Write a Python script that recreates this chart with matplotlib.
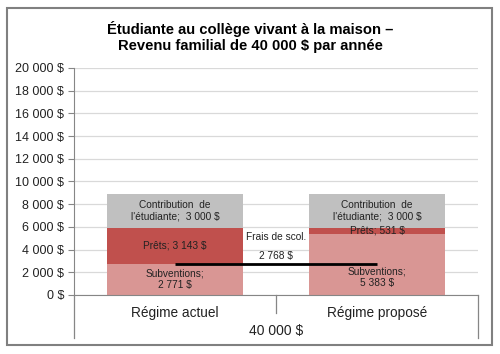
import matplotlib
matplotlib.use("Agg")
import matplotlib.pyplot as plt
from matplotlib.patches import Rectangle
from matplotlib.lines import Line2D

plt.rcParams['font.family'] = ['Liberation Sans', 'DejaVu Sans']

categories = ["Régime actuel", "Régime proposé"]
group_label = "40 000 $"
subventions = [2771, 5383]
prets = [3143, 531]
contribution = [3000, 3000]
frais_scol = 2768
title = "Étudiante au collège vivant à la maison –\nRevenu familial de 40 000 $ par année"
yticks = list(range(0, 20001, 2000))

def fmt(v):
    return f"{v:,}".replace(",", " ") + " $"

fig = plt.figure(figsize=(5.0, 3.54), dpi=100)
ax = fig.add_axes([0.148, 0.1667, 0.808, 0.6413])

x = [0, 1]
width = 0.67
c_sub = "#D99694"
c_pret = "#C0504D"
c_con = "#C0C0C0"

ax.bar(x, subventions, width, color=c_sub, zorder=2)
ax.bar(x, prets, width, bottom=subventions, color=c_pret, zorder=2)
bottoms3 = [s + p for s, p in zip(subventions, prets)]
ax.bar(x, contribution, width, bottom=bottoms3, color=c_con, zorder=2)

ax.set_xlim(-0.5, 1.5)
ax.set_ylim(0, 20000)
ax.set_yticks(yticks)
ax.set_yticklabels([fmt(v) for v in yticks], fontsize=9, color="#222222")
ax.yaxis.grid(True, color="#D9D9D9", linewidth=0.9, zorder=0)
ax.set_axisbelow(True)
ax.tick_params(axis='y', length=4, color="#868686", pad=3)
ax.set_xticks([])
for s in ["top", "right"]:
    ax.spines[s].set_visible(False)
ax.spines["left"].set_color("#868686")
ax.spines["bottom"].set_color("#868686")

lab_fs = 7.3
for i in x:
    ax.annotate(f"Subventions;\n{fmt(subventions[i])}", (i, subventions[i] / 2),
                xytext=(0, -9 if i == 1 else 0), textcoords="offset points",
                ha="center", va="center", fontsize=lab_fs, color="#222222", zorder=5,
                linespacing=1.15)
    ax.annotate(f"Prêts; {fmt(prets[i])}", (i, subventions[i] + prets[i] / 2),
                ha="center", va="center", fontsize=lab_fs, color="#222222", zorder=5)
    ax.annotate(f"Contribution  de\nl'étudiante;  {fmt(contribution[i])}",
                (i, bottoms3[i] + contribution[i] / 2),
                ha="center", va="center", fontsize=lab_fs, color="#222222", zorder=5,
                linespacing=1.15)

# tuition line
ax.plot(x, [frais_scol, frais_scol], color="black", linewidth=2, zorder=4,
        solid_capstyle="butt")
ax.annotate("Frais de scol.", (0.5, frais_scol), xytext=(0, 19), textcoords="offset points",
            ha="center", va="center", fontsize=lab_fs, color="#222222")
ax.annotate(fmt(frais_scol), (0.5, frais_scol), xytext=(0, 5.5), textcoords="offset points",
            ha="center", va="center", fontsize=lab_fs, color="#222222")

# multi-level category axis
trans = ax.get_xaxis_transform()
for i, c in enumerate(categories):
    ax.annotate(c, (i, 0), xycoords=trans, xytext=(0, -13), textcoords="offset points",
                ha="center", va="center", fontsize=9.8, color="#222222", annotation_clip=False)
ax.annotate(group_label, (0.5, 0), xycoords=trans, xytext=(0, -26), textcoords="offset points",
            ha="center", va="center", fontsize=10, color="#222222", annotation_clip=False)

def vline_px(xfig, y0, y1):
    fig.add_artist(Line2D([xfig / 500, xfig / 500], [1 - y0 / 354, 1 - y1 / 354],
                          color="#868686", linewidth=0.9))

vline_px(74, 295, 338)
vline_px(276, 295, 313)
vline_px(478, 295, 338)

fig.text(0.5, 1 - 37 / 354, title, ha="center", va="center", fontsize=10.6,
         fontweight="bold", color="black", linespacing=1.2)

fig.add_artist(Rectangle((7 / 500, 1 - 345 / 354), 485 / 500, 337 / 354,
                         fill=False, edgecolor="#808080", linewidth=1.5,
                         transform=fig.transFigure))

fig.savefig("out.png", dpi=100)
